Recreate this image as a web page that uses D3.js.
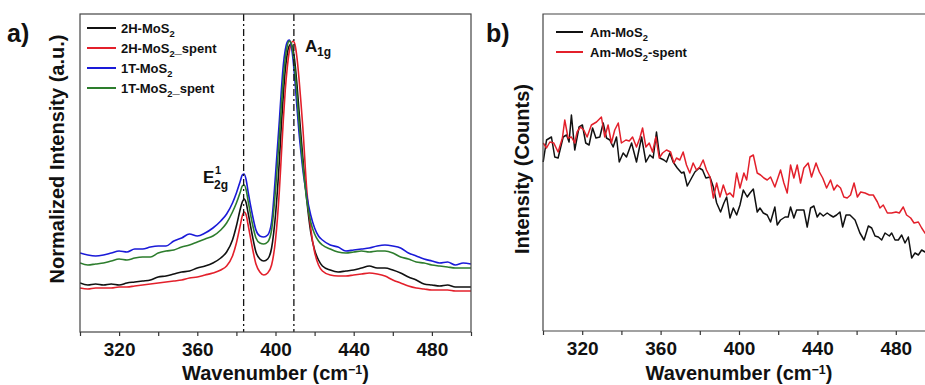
<!DOCTYPE html>
<html><head><meta charset="utf-8">
<script src="https://cdn.jsdelivr.net/npm/d3@7"></script>
<style>
body{margin:0;background:#fff}
svg{display:block}
text{font-family:"Liberation Sans",Arial,sans-serif;font-weight:bold;fill:#111}
</style></head>
<body><svg id="chart" width="925" height="385"></svg>
<script>
// ---------- Panel a data (normalized intensity, a.u.) ----------
const wnA = [300,304,308,312,316,320,324,328,332,336,340,344,348,352,356,360,364,368,372,
  375,378,380,382,383,384,385,386,388,390,392,394,396,398,400,
  402,403,404,405,406,407,408,409,410,411,412,413,414,
  416,418,420,422,424,
  428,432,436,440,444,448,452,456,460,464,468,472,476,480,484,488,492,496,500];
const int2H = [49,47,48,47,48,47,49,50,51,52,55,56,58,60,61,64,66,69,74,
  80,92,106,123,130,133,129,119,98,80,73,71,73,84,117,
  172,207,237,262,278,286,288,282,268,247,222,197,174,
  132,100,82,72,66,
  62,60,61,62,64,66,64,64,62,59,55,52,48,47,46,47,45,45,45];
const int2HSpent = [44,43,44,44,44,45,45,46,47,48,49,50,51,52,54,55,57,59,62,
  66,76,89,107,116,120,117,107,86,68,60,57,59,67,92,
  142,177,212,242,264,280,288,291,287,274,254,230,204,
  142,104,80,67,61,
  57,56,56,57,58,59,58,56,52,49,46,44,43,42,42,42,41,41,41];
const int1T = [79,77,76,77,79,81,80,83,83,85,86,86,91,94,98,96,99,104,111,
  118,129,139,151,157,158,152,140,119,102,96,95,97,110,157,
  212,242,267,282,290,292,287,272,250,224,200,180,162,
  136,117,104,96,92,
  87,85,81,82,83,84,86,87,86,84,79,76,73,71,69,70,67,69,68];
const int1TSpent = [69,67,68,69,71,73,72,74,75,75,79,81,82,85,87,90,93,96,102,
  109,120,129,140,146,147,142,131,110,94,89,88,90,102,142,
  197,227,254,274,286,291,289,278,260,236,210,187,167,
  132,110,98,91,87,
  83,80,79,80,81,80,81,81,79,75,73,70,69,67,66,65,64,64,64];
const namesA = ["2H-MoS2","2H-MoS2_spent","1T-MoS2","1T-MoS2_spent"];
const colorsA = ["#111111","#e3202b","#1a1ad8","#2d7d2d"];
const peakPositions = [383.7, 409.4];

// ---------- Panel b data (counts) ----------
const wnAm = [300.1,301.8,304.3,306.0,307.7,310.3,312.0,313.3,314.5,316.2,318.4,320.1,321.8,323.5,325.3,327.0,329.0,330.7,332.4,334.1,335.8,337.5,338.9,340.9,342.6,345.2,347.7,350.3,352.5,354.5,356.2,357.9,359.6,361.7,363.0,364.7,366.4,368.5,370.7,371.9,373.6,375.8,377.5,379.7,381.4,383.1,385.2,386.9,388.6,390.6,392.3,393.7,395.4,397.1,398.8,400.5,402.2,404.2,405.6,407.3,409.3,410.7,412.4,414.4,416.1,418.3,419.5,421.2,423.5,425.1,426.3,428.0,429.4,431.1,433.1,434.8,436.5,438.2,439.9,441.3,443.0,445.0,446.4,448.1,449.8,451.5,452.9,454.6,456.6,459.2,461.7,463.8,466.0,467.7,469.4,471.1,472.8,474.5,476.7,477.9,479.6,481.3,483.0,484.7,486.4,488.1,489.8,491.5,493.2,494.9,496.5];
const intAm = [169,191,194,174,173,194,196,189,216,181,204,206,188,186,203,193,194,208,193,191,184,194,169,178,174,188,169,194,169,176,173,199,173,171,169,178,169,163,158,159,145,153,159,163,161,153,154,144,128,119,128,134,113,123,116,126,141,134,138,142,119,123,118,116,109,124,106,111,114,114,124,113,121,121,121,104,123,125,114,118,115,118,116,114,116,119,104,116,116,111,98,91,105,103,95,94,91,98,95,98,91,91,96,88,94,73,78,76,81,79,78];
const wnAmSpent = [300.1,301.8,303.5,305.5,307.7,309.9,311.1,312.8,314.5,316.2,317.4,319.1,320.8,322.5,324.7,327.3,329.8,331.5,333.2,334.9,336.6,338.4,340.0,342.3,344.0,345.7,347.7,349.4,350.8,352.5,354.2,355.9,357.6,359.3,361.0,363.0,365.1,366.8,368.1,369.8,371.5,373.2,374.9,376.6,378.3,380.0,381.7,383.4,385.2,386.9,388.6,390.3,392.0,393.7,395.4,397.1,398.8,400.5,402.5,403.9,405.6,407.3,409.3,411.0,412.7,414.4,416.1,418.3,420.0,421.2,422.9,424.6,426.3,428.0,429.7,431.4,433.1,435.3,437.0,439.3,441.0,442.7,444.7,446.7,448.4,450.1,451.8,453.5,455.2,456.9,458.7,460.4,462.1,464.3,466.5,468.5,470.6,471.9,473.6,475.7,477.9,480.1,481.8,483.8,485.5,487.6,489.3,491.5,493.2,494.9,496.5];
const intAmSpent = [188,183,189,188,179,193,211,193,194,188,199,204,201,194,206,209,214,194,206,188,201,208,188,191,190,194,184,193,203,184,188,179,194,173,178,181,179,168,173,171,179,166,158,168,161,164,171,161,154,133,148,134,146,136,138,134,158,143,158,151,174,176,158,156,153,151,154,144,154,161,148,138,166,153,166,148,163,168,154,168,159,153,143,151,141,146,143,134,133,136,148,134,139,138,136,136,129,123,126,118,118,119,118,124,116,113,108,109,103,98,94];
const namesB = ["Am-MoS2","Am-MoS2-spent"];
const colorsB = ["#111111","#e3202b"];

const xTicks = [300,320,340,360,380,400,420,440,460,480,500];
const xTickLabels = [320,360,400,440,480];

// ---------- drawing ----------
const svg = d3.select("#chart");
const FONT = '"Liberation Sans",Arial,sans-serif';

function richText(g, x, y, parts, fs, anchor, supScale) {
  const t = g.append("text").attr("x", x).attr("y", y)
    .style("font-size", fs + "px").attr("text-anchor", anchor || "start");
  let cur = 0;
  parts.forEach(([str, kind]) => {
    const shift = kind === "sub" ? fs * 0.3 : kind === "sup" ? -fs * 0.32 : 0;
    const sc = kind === "sup" ? (supScale || 0.62) : 0.72;
    t.append("tspan").attr("dy", shift - cur)
      .style("font-size", (kind ? fs * sc : fs) + "px").text(str);
    cur = shift;
  });
  return t;
}
function nameParts(n) {
  const i = n.indexOf("MoS2");
  return [[n.slice(0, i + 3)], ["2", "sub"], [n.slice(i + 4)]];
}
function bottomAxis(x, y0) {
  const g = svg.append("g").attr("transform", `translate(0,${y0})`)
    .call(d3.axisBottom(x).tickValues(xTicks).tickSize(4).tickSizeOuter(0)
      .tickFormat(d => xTickLabels.includes(d) ? d : ""));
  g.select(".domain").remove();
  g.selectAll(".tick line").attr("stroke", "#333").attr("stroke-width", 1.2);
  g.selectAll(".tick text").attr("y", 24).attr("dy", 0)
    .style("font-size", "19px").style("font-family", FONT).style("font-weight", "bold").attr("fill", "#111");
}
function axisTitle(cx, y) {
  richText(svg, cx, y, [["Wavenumber (cm"], ["\u22121", "sup"], [")"]], 20, "middle");
}

// Panel a
const xA = d3.scaleLinear().domain([300, 500]).range([80, 471]);
const yA = d3.scaleLinear().domain([0, 318]).range([332, 14]);
const lineA = d3.line().x((d, i) => xA(wnA[i])).y(d => yA(d)).curve(d3.curveMonotoneX);
const seriesA = [int2H, int2HSpent, int1T, int1TSpent];
svg.append("defs").append("clipPath").attr("id", "clipA")
  .append("rect").attr("x", 80).attr("y", 14).attr("width", 391).attr("height", 318);
const gA = svg.append("g").attr("clip-path", "url(#clipA)");
seriesA.forEach((s, k) => {
  gA.append("path").datum(s).attr("d", lineA).attr("fill", "none")
    .attr("stroke", colorsA[k]).attr("stroke-width", 1.6).attr("stroke-linejoin", "round");
});
peakPositions.forEach(p => {
  svg.append("line").attr("x1", xA(p)).attr("x2", xA(p)).attr("y1", 14).attr("y2", 332)
    .attr("stroke", "#111").attr("stroke-width", 1.3).attr("stroke-dasharray", "7,3,2,3");
});
svg.append("rect").attr("x", 80).attr("y", 14).attr("width", 391).attr("height", 318)
  .attr("fill", "none").attr("stroke", "#444").attr("stroke-width", 1.2);
bottomAxis(xA, 332);
axisTitle(275.5, 380);
svg.append("text").attr("transform", "translate(64,159) rotate(-90)")
  .attr("text-anchor", "middle").style("font-size", "20px").text("Normalized Intensity (a.u.)");
svg.append("text").attr("x", 7).attr("y", 42).style("font-size", "25px").text("a)");
// legend a
namesA.forEach((n, k) => {
  const yy = 28 + k * 20;
  svg.append("line").attr("x1", 87).attr("x2", 116).attr("y1", yy).attr("y2", yy)
    .attr("stroke", colorsA[k]).attr("stroke-width", 2);
  richText(svg, 121, yy + 5, nameParts(n), 13);
});
// peak labels
svg.append("text").attr("x", 203).attr("y", 183).style("font-size", "17px").text("E");
svg.append("text").attr("x", 215).attr("y", 174).style("font-size", "11px").text("1");
svg.append("text").attr("x", 214).attr("y", 189).style("font-size", "12px").text("2g");
svg.append("text").attr("x", 305).attr("y", 52).style("font-size", "17px").text("A");
svg.append("text").attr("x", 317).attr("y", 56).style("font-size", "12px").text("1g");

// Panel b
const xB = d3.scaleLinear().domain([300, 500]).range([543, 935]);
const yB = d3.scaleLinear().domain([0, 317]).range([331, 14]);
const lineB = (wn) => d3.line().x((d, i) => xB(wn[i])).y(d => yB(d));
svg.append("path").datum(intAm).attr("d", lineB(wnAm)).attr("fill", "none")
  .attr("stroke", colorsB[0]).attr("stroke-width", 1.5).attr("stroke-linejoin", "round");
svg.append("path").datum(intAmSpent).attr("d", lineB(wnAmSpent)).attr("fill", "none")
  .attr("stroke", colorsB[1]).attr("stroke-width", 1.5).attr("stroke-linejoin", "round");
svg.append("path").attr("d", `M543,331V14H935`).attr("fill", "none")
  .attr("stroke", "#444").attr("stroke-width", 1.2);
svg.append("line").attr("x1", 543).attr("x2", 935).attr("y1", 331).attr("y2", 331)
  .attr("stroke", "#444").attr("stroke-width", 1.2);
bottomAxis(xB, 331);
axisTitle(739, 380);
svg.append("text").attr("transform", "translate(529,169) rotate(-90)")
  .attr("text-anchor", "middle").style("font-size", "20px").text("Intensity (Counts)");
svg.append("text").attr("x", 486).attr("y", 42).style("font-size", "25px").text("b)");
namesB.forEach((n, k) => {
  const yy = 32 + k * 20;
  svg.append("line").attr("x1", 556).attr("x2", 583).attr("y1", yy).attr("y2", yy)
    .attr("stroke", colorsB[k]).attr("stroke-width", 2);
  richText(svg, 590, yy + 5, nameParts(n), 13);
});
</script></body></html>
